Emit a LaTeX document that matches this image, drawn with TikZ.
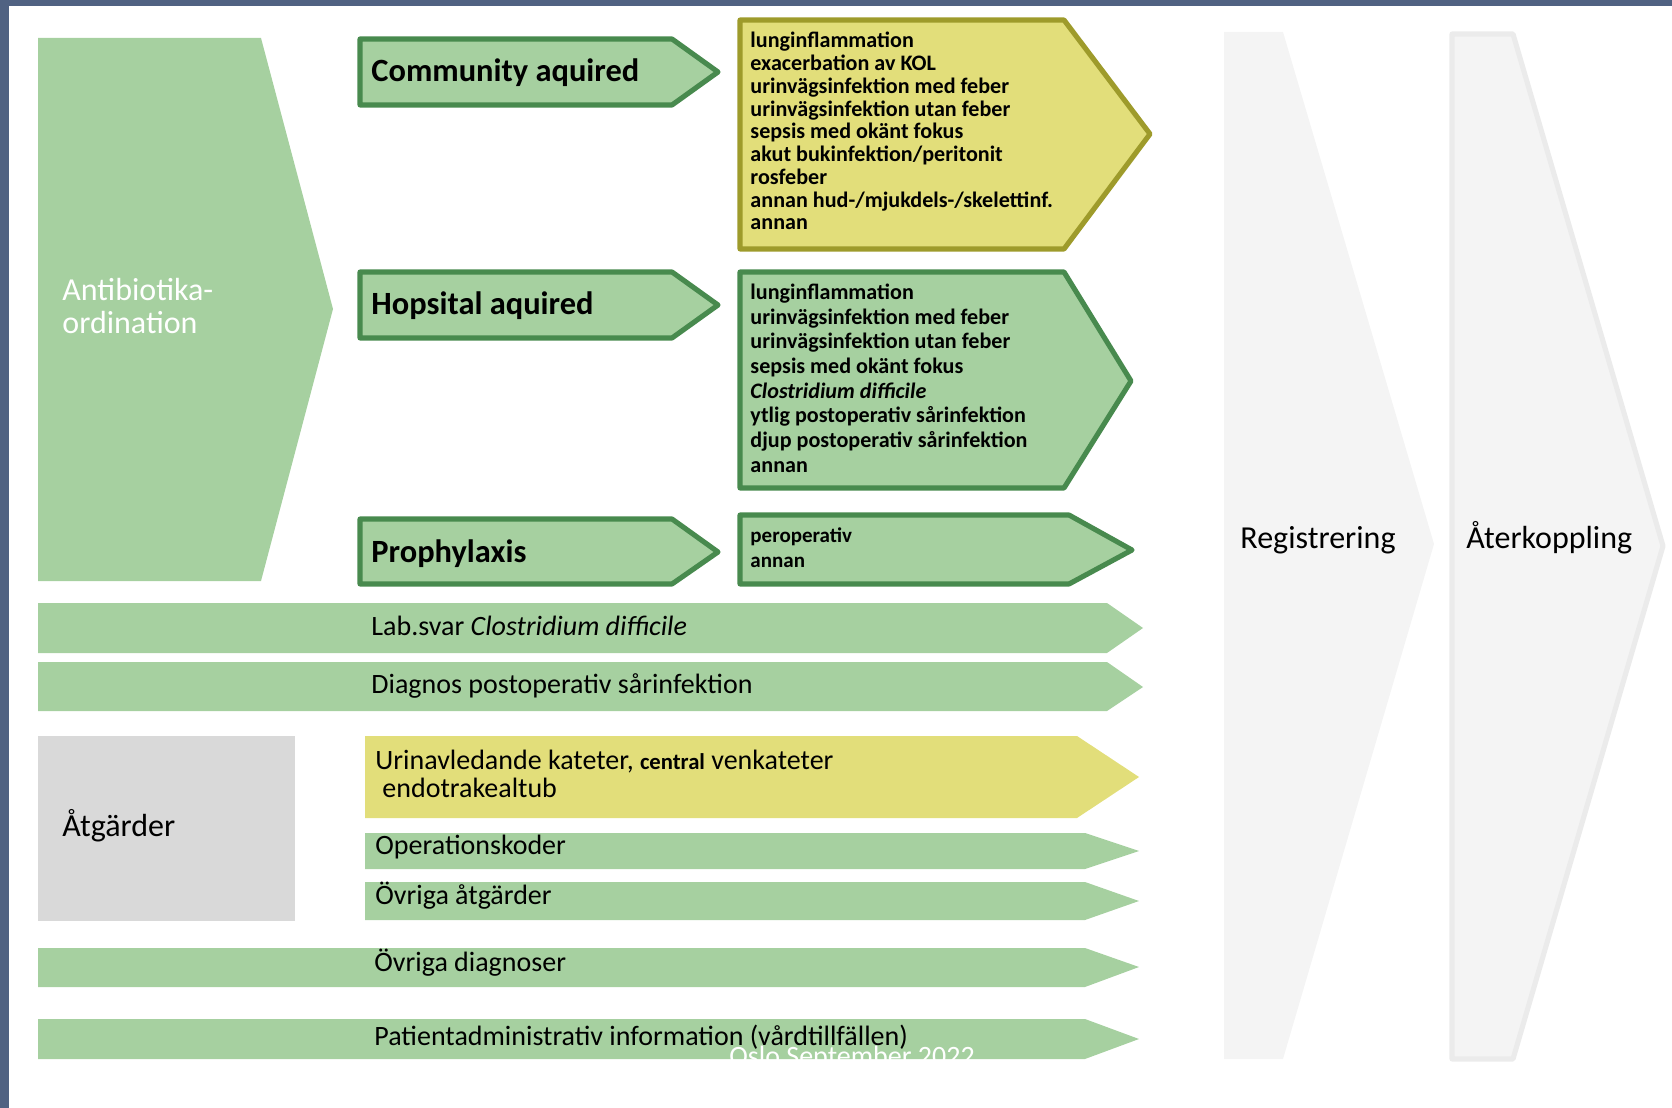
\documentclass[tikz,border=0pt]{standalone}
\usepackage{fontspec}
\setmainfont{Carlito}
\usetikzlibrary{positioning}
\definecolor{frameBlue}{RGB}{80,98,130}
\definecolor{barGreen}{RGB}{166,208,160}
\definecolor{darkGreen}{RGB}{72,138,78}
\definecolor{listYellow}{RGB}{226,222,122}
\definecolor{oliveLine}{RGB}{158,155,43}
\definecolor{boxGray}{RGB}{217,217,217}
\definecolor{chevGray}{RGB}{244,244,244}
\definecolor{chevLine}{RGB}{235,235,235}
\tikzset{headbox/.style={draw=darkGreen, fill=barGreen, line width=2.3pt, line join=round},
         yellowbox/.style={draw=oliveLine, fill=listYellow, line width=2.3pt, line join=round},
         headtext/.style={anchor=base west, inner sep=0pt, font=\fontsize{14.6}{16}\selectfont\bfseries},
         listtext/.style={anchor=base west, inner sep=0pt, align=left},
         bartext/.style={anchor=base west, inner sep=0pt, font=\fontsize{12.6}{12.6}\selectfont},
         bigtext/.style={anchor=base west, inner sep=0pt, align=left, font=\fontsize{14.4}{14.85}\selectfont}}

\begin{document}
\begin{tikzpicture}[x=0.45pt,y=-0.45pt]
        \useasboundingbox (0,0) rectangle (1672,1108);
        % frame
        \fill[frameBlue] (0,0) rectangle (1672,6);
        \fill[frameBlue] (0,0) rectangle (9,1108);
        
        % process steps on the right
        \fill[chevGray] (1224,32) -- (1283,32) -- (1434,544) -- (1283,1059) -- (1224,1059) -- cycle;
        \draw[chevLine, fill=chevGray, line width=2.3pt, line join=round] (1452,34) -- (1513,34) -- (1663,546) -- (1513,1059) -- (1452,1059) -- cycle;
        \node[bigtext] (reg) at (1240,548) {Registrering};
        \node[bigtext] (aterk) at (1466,548) {Återkoppling};
        
        % Antibiotika-ordination (base = last line)
        \fill[barGreen] (38,38) -- (261,38) -- (333,309) -- (261,581) -- (38,581) -- cycle;
        \node[bigtext, text=white] (abOrd) at (62,334) {Antibiotika-\\ordination};
        
        % indications
        \draw[headbox] (360,39) -- (672,39) -- (718,72) -- (672,105) -- (360,105) -- cycle;
        \node[headtext] (commLbl) at (371,82) {Community aquired};
        \draw[headbox] (360,272) -- (672,272) -- (718,305) -- (672,338) -- (360,338) -- cycle;
        \node[headtext] (hospLbl) at (371,315) {Hopsital aquired};
        \draw[headbox] (360,519) -- (672,519) -- (718,552) -- (672,584) -- (360,584) -- cycle;
        \node[headtext] (prophLbl) at (371,562) {Prophylaxis};
        
        % diagnoses
        \draw[yellowbox] (740,20) -- (1064,20) -- (1150,134) -- (1064,249) -- (740,249) -- cycle;
        \node[listtext, font=\fontsize{9.95}{10.24}\selectfont\bfseries] (commList) at (750,230)
            {lunginflammation\\exacerbation av KOL\\urinvägsinfektion med feber\\urinvägsinfektion utan feber\\sepsis med okänt fokus\\akut bukinfektion/peritonit\\rosfeber\\annan hud-/mjukdels-/skelettinf.\\annan};
        \draw[headbox] (740,272) -- (1064,272) -- (1131,381) -- (1064,488) -- (740,488) -- cycle;
        \node[listtext, font=\fontsize{9.95}{11.07}\selectfont\bfseries] (hospList) at (750,472)
            {lunginflammation\\urinvägsinfektion med feber\\urinvägsinfektion utan feber\\sepsis med okänt fokus\\\textit{Clostridium difficile}\\ytlig postoperativ sårinfektion\\djup postoperativ sårinfektion\\annan};
        \draw[headbox] (740,515) -- (1069,515) -- (1132,550) -- (1069,584) -- (740,584) -- cycle;
        \node[listtext, font=\fontsize{9.45}{10.8}\selectfont\bfseries] (prophList) at (750,567) {peroperativ\\annan};
        
        % long bars
        \fill[barGreen] (38,603) -- (1107,603) -- (1143,628) -- (1107,653) -- (38,653) -- cycle;
        \node[bartext] (labLbl) at (371,635) {Lab.svar \textit{Clostridium difficile}};
        \fill[barGreen] (38,662) -- (1107,662) -- (1143,687) -- (1107,711) -- (38,711) -- cycle;
        \node[bartext] (diagLbl) at (371,693) {Diagnos postoperativ sårinfektion};
        
        % Atgarder
        \fill[boxGray] (38,736) rectangle (295,921);
        \node[bigtext] (atgLbl) at (62,836) {Åtgärder};
        \fill[listYellow] (365,736) -- (1077,736) -- (1139,777) -- (1077,818) -- (365,818) -- cycle;
        \node[bartext, align=left, font=\fontsize{12.6}{12.6}\selectfont] (katLbl) at (375,797)
            {Urinavledande kateter, {\fontsize{10.2}{12}\selectfont\bfseries central} venkateter\\\hspace{0.25em}endotrakealtub};
        \fill[barGreen] (365,833) -- (1085,833) -- (1139,851) -- (1085,869) -- (365,869) -- cycle;
        \node[bartext] (opLbl) at (375,854) {Operationskoder};
        \fill[barGreen] (365,882) -- (1085,882) -- (1139,901) -- (1085,920) -- (365,920) -- cycle;
        \node[bartext] (ovrAtgLbl) at (375,904) {Övriga åtgärder};
        
        \fill[barGreen] (38,948) -- (1085,948) -- (1139,967) -- (1085,987) -- (38,987) -- cycle;
        \node[bartext] (ovrDiagLbl) at (374,971) {Övriga diagnoser};
        \fill[barGreen] (38,1019) -- (1085,1019) -- (1139,1039) -- (1085,1059) -- (38,1059) -- cycle;
        \node[bartext] (patLbl) at (374,1045) {Patientadministrativ information (vårdtillfällen)};
        
        % footer, white
        \node[bartext, text=white] (footer) at (729,1065) {Oslo September 2022};
\end{tikzpicture}
\end{document}
